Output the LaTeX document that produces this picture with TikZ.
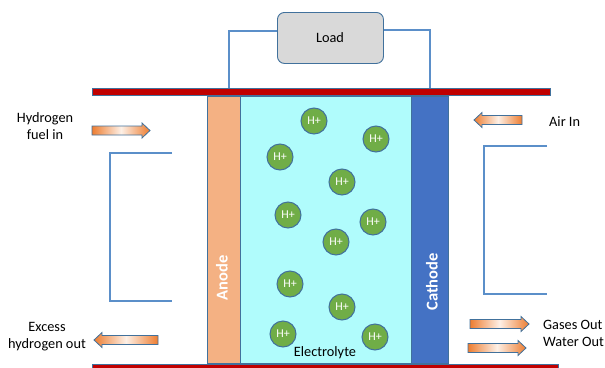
\documentclass[tikz,border=0pt]{standalone}
\usepackage{fontspec}
\setmainfont{Carlito}
\definecolor{wire}{HTML}{5B8FC9}
\definecolor{edge}{HTML}{41719C}
\definecolor{barred}{HTML}{C00000}
\definecolor{anodec}{HTML}{F4B183}
\definecolor{electc}{HTML}{B0FCFC}
\definecolor{cathc}{HTML}{4472C4}
\definecolor{ionc}{HTML}{70AD47}
\definecolor{loadc}{HTML}{D9D9D9}
\definecolor{arrdark}{HTML}{ED7D31}
\definecolor{arrlight}{HTML}{FDF0E6}
\newcommand\flowarrow[3]{% tail x, tip x, y
  \pgfmathsetmacro\hx{#2-8*sign(#2-#1)}
  \shadedraw[arrowbody] (#1,#3-4.5) -- (\hx,#3-4.5) -- (\hx,#3-7.5) -- (#2,#3)
    -- (\hx,#3+7.5) -- (\hx,#3+4.5) -- (#1,#3+4.5) -- cycle;
}
\begin{document}
\begin{tikzpicture}[x=1pt,y=-1pt,
  txt/.style={font=\fontsize{14.3}{17}\selectfont, align=center, inner sep=0pt},
  plate/.style={draw=edge, line width=0.8pt, inner sep=0pt, anchor=north west},
  ion/.style={circle, draw=edge, line width=1pt, fill=ionc, minimum size=26pt, inner sep=0pt,
    text=white, font=\fontsize{12}{13}\selectfont},
  electrode/.style={rotate=90, text=white, font=\fontsize{16.5}{18}\selectfont\bfseries, inner sep=0pt},
  wireline/.style={draw=wire, line width=1.3pt},
  arrowbody/.style={draw=edge, line width=0.8pt, left color=arrdark, right color=arrdark, middle color=arrlight}]
\useasboundingbox (0,0) rectangle (605,367);

% bars
\node[plate, fill=barred, minimum width=458pt, minimum height=7pt] (topbar) at (92,88) {};
\node[plate, fill=barred, minimum width=466pt, minimum height=7pt] (botbar) at (92,364) {};

% cell
\node[plate, fill=anodec, minimum width=33pt, minimum height=267pt] (anode) at (207,96) {};
\node[plate, fill=electc, minimum width=171pt, minimum height=267pt] (elec) at (240,96) {};
\node[plate, fill=cathc, minimum width=37pt, minimum height=267pt] (cathode) at (411,96) {};
\node[electrode] (anodelbl) at (222,278) {Anode};
\node[electrode] (cathlbl) at (432,282) {Cathode};
\node[txt] (eleclbl) at (325,353) {Electrolyte};

% load
\node[draw=edge, line width=0.9pt, fill=loadc, rounded corners=7pt, minimum width=106pt,
  minimum height=51pt, anchor=north west, inner sep=0pt] (load) at (277,12) {};
\node[txt] (loadlbl) at (330,38) {Load};
\coordinate (lw) at (229,88);
\coordinate (rw) at (430,88);
\draw[wireline] (load.west |- 0,31) -| (lw);
\draw[wireline] (load.east |- 0,30) -| (rw);

% brackets
\draw[wireline] (172,153) -| (110,301) -- (172,301);
\draw[wireline] (547,146) -| (484,294) -- (547,294);

% ions
\foreach \n/\x/\y in {1/314/121, 2/376/139, 3/280/157, 4/342/182, 5/288/215, 6/373/222,
  7/336/242, 8/290/284, 9/342/307, 10/283/334, 11/375/337}
  \node[ion] (h\n) at (\x,\y) {H+};

% flow arrows
\flowarrow{92}{150}{130.5}
\flowarrow{522}{474}{120}
\flowarrow{158}{94}{340}
\flowarrow{470}{529}{324}
\flowarrow{468}{526}{348}

% labels
\node[txt] (h2in) at (45,126) {Hydrogen\\fuel in};
\node[txt, anchor=west] (airin) at (549,122) {Air In};
\node[txt] (h2out) at (47,337) {Excess\\hydrogen out};
\node[txt, anchor=west] (gasout) at (543,325) {Gases Out};
\node[txt, anchor=west] (waterout) at (543,342) {Water Out};
\end{tikzpicture}
\end{document}
